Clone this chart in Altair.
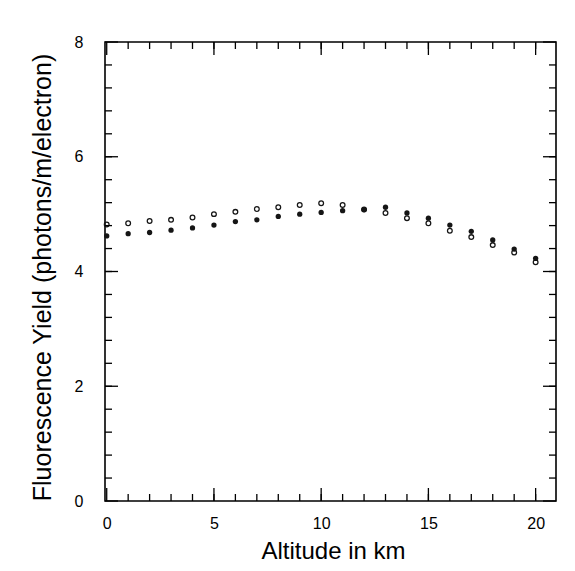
import altair as alt
import pandas as pd

# ---- data ----
altitude = list(range(0, 21))
yield_open = [4.82, 4.84, 4.88, 4.90, 4.94, 5.00, 5.04, 5.09, 5.12, 5.16, 5.19,
              5.16, 5.08, 5.02, 4.93, 4.84, 4.71, 4.60, 4.46, 4.33, 4.16]
yield_filled = [4.62, 4.66, 4.68, 4.72, 4.76, 4.81, 4.87, 4.90, 4.96, 5.00, 5.03,
                5.06, 5.08, 5.12, 5.02, 4.93, 4.81, 4.70, 4.55, 4.39, 4.23]

x_major = [0, 5, 10, 15, 20]
x_minor = list(range(1, 21))
y_major = [0, 2, 4, 6, 8]
y_minor = [round(0.4 * i, 1) for i in range(1, 20)]

W, H = 451, 459
FONT = "Liberation Sans"
INK = "#151515"

df = pd.DataFrame({"alt": altitude, "open": yield_open, "filled": yield_filled})
xs = alt.Scale(domain=[-0.08, 20.95], nice=False, zero=False)
ys = alt.Scale(domain=[0, 8], nice=False)

x_axis = alt.Axis(values=x_major, format="d", ticks=False, domain=False, grid=False,
                  labelFontSize=16, labelFont=FONT, labelColor="black", labelPadding=14,
                  labelFlush=False,
                  title="Altitude in km", titleFont=FONT, titleFontSize=24,
                  titleFontWeight="normal", titleColor="black",
                  titleX=228, titleY=57, titleBaseline="alphabetic", titleAlign="center")
y_axis = alt.Axis(values=y_major, format="d", ticks=False, domain=False, grid=False,
                  labelFontSize=16, labelFont=FONT, labelColor="black", labelPadding=22,
                  labelFlush=False,
                  title="Fluorescence Yield (photons/m/electron)", titleFont=FONT,
                  titleFontSize=25, titleFontWeight="normal", titleColor="black",
                  titleX=-55, titleY=235, titleBaseline="alphabetic", titleAlign="center",
                  titleAngle=270)

open_pts = alt.Chart(df).mark_point(filled=False, size=22, strokeWidth=1.3, color=INK, opacity=1).encode(
    x=alt.X("alt:Q", scale=xs, axis=x_axis),
    y=alt.Y("open:Q", scale=ys, axis=y_axis),
)
filled_pts = alt.Chart(df).mark_circle(size=28, color=INK, opacity=1).encode(
    x=alt.X("alt:Q", scale=xs),
    y=alt.Y("filled:Q", scale=ys),
)

def xticks(vals, length):
    d = pd.DataFrame({"t": vals})
    base = alt.Chart(d).mark_rule(color="black", strokeWidth=1.3)
    bottom = base.encode(x=alt.X("t:Q", scale=xs), y=alt.value(H), y2=alt.value(H - length))
    top = base.encode(x=alt.X("t:Q", scale=xs), y=alt.value(0), y2=alt.value(length))
    return [bottom, top]

def yticks(vals, length):
    d = pd.DataFrame({"t": vals})
    base = alt.Chart(d).mark_rule(color="black", strokeWidth=1.3)
    left = base.encode(y=alt.Y("t:Q", scale=ys), x=alt.value(0), x2=alt.value(length))
    right = base.encode(y=alt.Y("t:Q", scale=ys), x=alt.value(W), x2=alt.value(W - length))
    return [left, right]

layers = ([open_pts, filled_pts]
          + xticks(x_minor, 7) + xticks(x_major, 13) + yticks(y_minor, 7) + yticks(y_major, 13))

chart = alt.layer(*layers).properties(
    width=W, height=H,
    autosize=alt.AutoSizeParams(type="none"),
    padding={"left": 97, "top": 34, "right": 11, "bottom": 62},
    background="white",
).configure_view(stroke="black", strokeWidth=1.6)

chart.save("out.html", embed_options={"renderer": "svg", "actions": False})
